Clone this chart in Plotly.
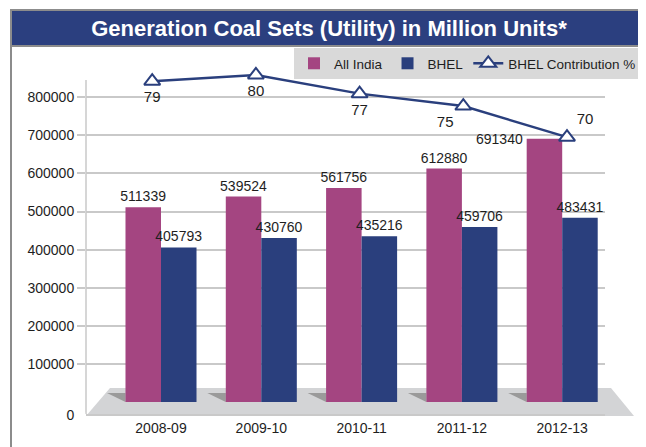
import plotly.graph_objects as go

# ---------------- data ----------------
categories = ["2008-09", "2009-10", "2010-11", "2011-12", "2012-13"]
all_india = [511339, 539524, 561756, 612880, 691340]
bhel = [405793, 430760, 435216, 459706, 483431]
bhel_pct = [79, 80, 77, 75, 70]
y_tick_values = [100000, 200000, 300000, 400000, 500000, 600000, 700000, 800000]
y_tick_labels = ["100000", "200000", "300000", "400000", "500000", "600000", "700000", "800000"]
title_text = "Generation Coal Sets (Utility) in Million Units*"

# ---------------- styling / layout geometry ----------------
OFF = 8                                # page body margin of the html page
W, H = 646 - OFF, 447 - OFF            # figure size
L, R, T, B = 86, 605, 60, 418          # plot box in screen pixels
ZERO_PX = 402                          # screen row of value 0
PPU = 38.09 / 100000                   # pixels per unit on main axis
MAGENTA = "#a44581"
NAVY = "#2a3f7d"
GRID = "#c9c9c9"
FRAME = "#8c8c8c"
FONT = "Liberation Sans, Arial, sans-serif"
TXT = "#1e1e1e"
FS = 14
pct_positions = ["bottom center", "bottom center", "bottom center", "bottom left", "top right"]


def px(X):
    return (X - L) / (R - L)


def py(Y):
    return (B - Y) / (B - T)


y_range = [-(B - ZERO_PX) / PPU, (ZERO_PX - T) / PPU]
zero_label_val = -(415 - ZERO_PX) / PPU

fig = go.Figure()

fig.add_trace(go.Bar(
    name="All India", x=categories, y=all_india,
    marker=dict(color=MAGENTA, line=dict(width=0)),
    text=[str(v) for v in all_india[:-1]] + [""],
    textposition="outside", cliponaxis=False, constraintext="none",
    textfont=dict(family=FONT, size=FS, color=TXT),
))
fig.add_trace(go.Bar(
    name="BHEL", x=categories, y=bhel,
    marker=dict(color=NAVY, line=dict(width=0)),
    text=[str(v) for v in bhel],
    textposition="outside", cliponaxis=False, constraintext="none",
    textfont=dict(family=FONT, size=FS, color=TXT),
))
fig.add_trace(go.Scatter(
    name="BHEL Contribution %", x=categories, y=bhel_pct,
    xaxis="x2", yaxis="y2",
    mode="lines+markers+text",
    line=dict(color=NAVY, width=2.5),
    marker=dict(symbol="triangle-up", size=14, color="white",
                line=dict(color=NAVY, width=2)),
    text=[str(v) for v in bhel_pct],
    textposition=pct_positions,
    textfont=dict(family=FONT, size=15, color=TXT),
    cliponaxis=False,
))

# label for the last All India bar, placed left of the bar
fig.add_annotation(
    x=categories[-1], y=all_india[-1], xref="x", yref="y",
    text=str(all_india[-1]), showarrow=False,
    xanchor="right", yanchor="middle", xshift=-37,
    font=dict(family=FONT, size=FS, color=TXT),
)

shapes = []
# title bar
shapes.append(dict(type="rect", xref="paper", yref="paper",
                   x0=px(11), x1=px(650), y0=py(46), y1=py(10),
                   fillcolor="#2b3f7f", line=dict(color=FRAME, width=2), layer="above"))
# left frame line
shapes.append(dict(type="line", xref="paper", yref="paper",
                   x0=px(11), x1=px(11), y0=py(46), y1=py(450),
                   line=dict(color=FRAME, width=2)))
# floor
shapes.append(dict(type="path", xref="paper", yref="paper",
                   path=f"M {px(86)},{py(416)} L {px(110)},{py(388)} L {px(611)},{py(388)} "
                        f"L {px(634)},{py(416)} Z",
                   fillcolor="#d3d4d6", line=dict(width=0), layer="between"))
# value axis line (back wall edge)
shapes.append(dict(type="line", xref="paper", yref="paper",
                   x0=0, x1=0, y0=py(414), y1=py(80),
                   line=dict(color=GRID, width=1.5), layer="below"))
# no tick mark next to the floor-level "0" label
shapes.append(dict(type="rect", xref="paper", yref="paper",
                   x0=px(76), x1=px(85.2), y0=py(418), y1=py(412.5),
                   fillcolor="white", line=dict(width=0), layer="above"))
# bar shadows on the floor
for c in categories:
    shapes.append(dict(type="path", xref="x", yref="y",
                       xsizemode="pixel", ysizemode="pixel",
                       xanchor=c, yanchor=0,
                       path="M -54,9 L -35.5,9 L -35.5,0 Z",
                       fillcolor="#9a9a9a", line=dict(width=0), layer="between"))

fig.update_layout(
    width=W, height=H,
    margin=dict(l=L - OFF, r=W - (R - OFF), t=T - OFF, b=H - (B - OFF), pad=0, autoexpand=False),
    paper_bgcolor="white", plot_bgcolor="white",
    barmode="group", bargap=0.292, bargroupgap=0,
    title=dict(text=title_text, x=(329 - OFF) / W, xanchor="center",
               y=1 - (28 - OFF) / H, yanchor="middle",
               font=dict(family=FONT, size=22, color="white", weight="bold")),
    font=dict(family=FONT, size=FS, color=TXT),
    showlegend=True,
    legend=dict(orientation="h", x=px(641), xanchor="right", y=py(48), yanchor="top",
                bgcolor="#d9d9d9", borderwidth=0,
                font=dict(family=FONT, size=13.5, color=TXT),
                itemwidth=30, tracegroupgap=0),
    xaxis=dict(type="category", range=[-(161 - L) / 100.3, -(161 - L) / 100.3 + (R - L) / 100.3],
               showgrid=False, showline=False, zeroline=False, ticks="",
               tickfont=dict(family=FONT, size=FS, color=TXT)),
    xaxis2=dict(type="category", overlaying="x", visible=False,
                range=[-(152.2 - L) / 103.7, -(152.2 - L) / 103.7 + (R - L) / 103.7]),
    yaxis=dict(range=y_range, tickvals=[zero_label_val] + y_tick_values,
               ticktext=["0"] + y_tick_labels,
               showgrid=True, gridcolor=GRID, gridwidth=1.5,
               showline=False, zeroline=False,
               ticks="outside", ticklen=8, tickcolor=GRID, tickwidth=1.5,
               tickfont=dict(family=FONT, size=FS, color=TXT)),
    yaxis2=dict(overlaying="y", side="right", visible=False,
                range=[76.2 - (B - 98.6) / 6.218, 76.2 + (98.6 - T) / 6.218]),
    shapes=shapes,
)

fig.write_html("out.html")
